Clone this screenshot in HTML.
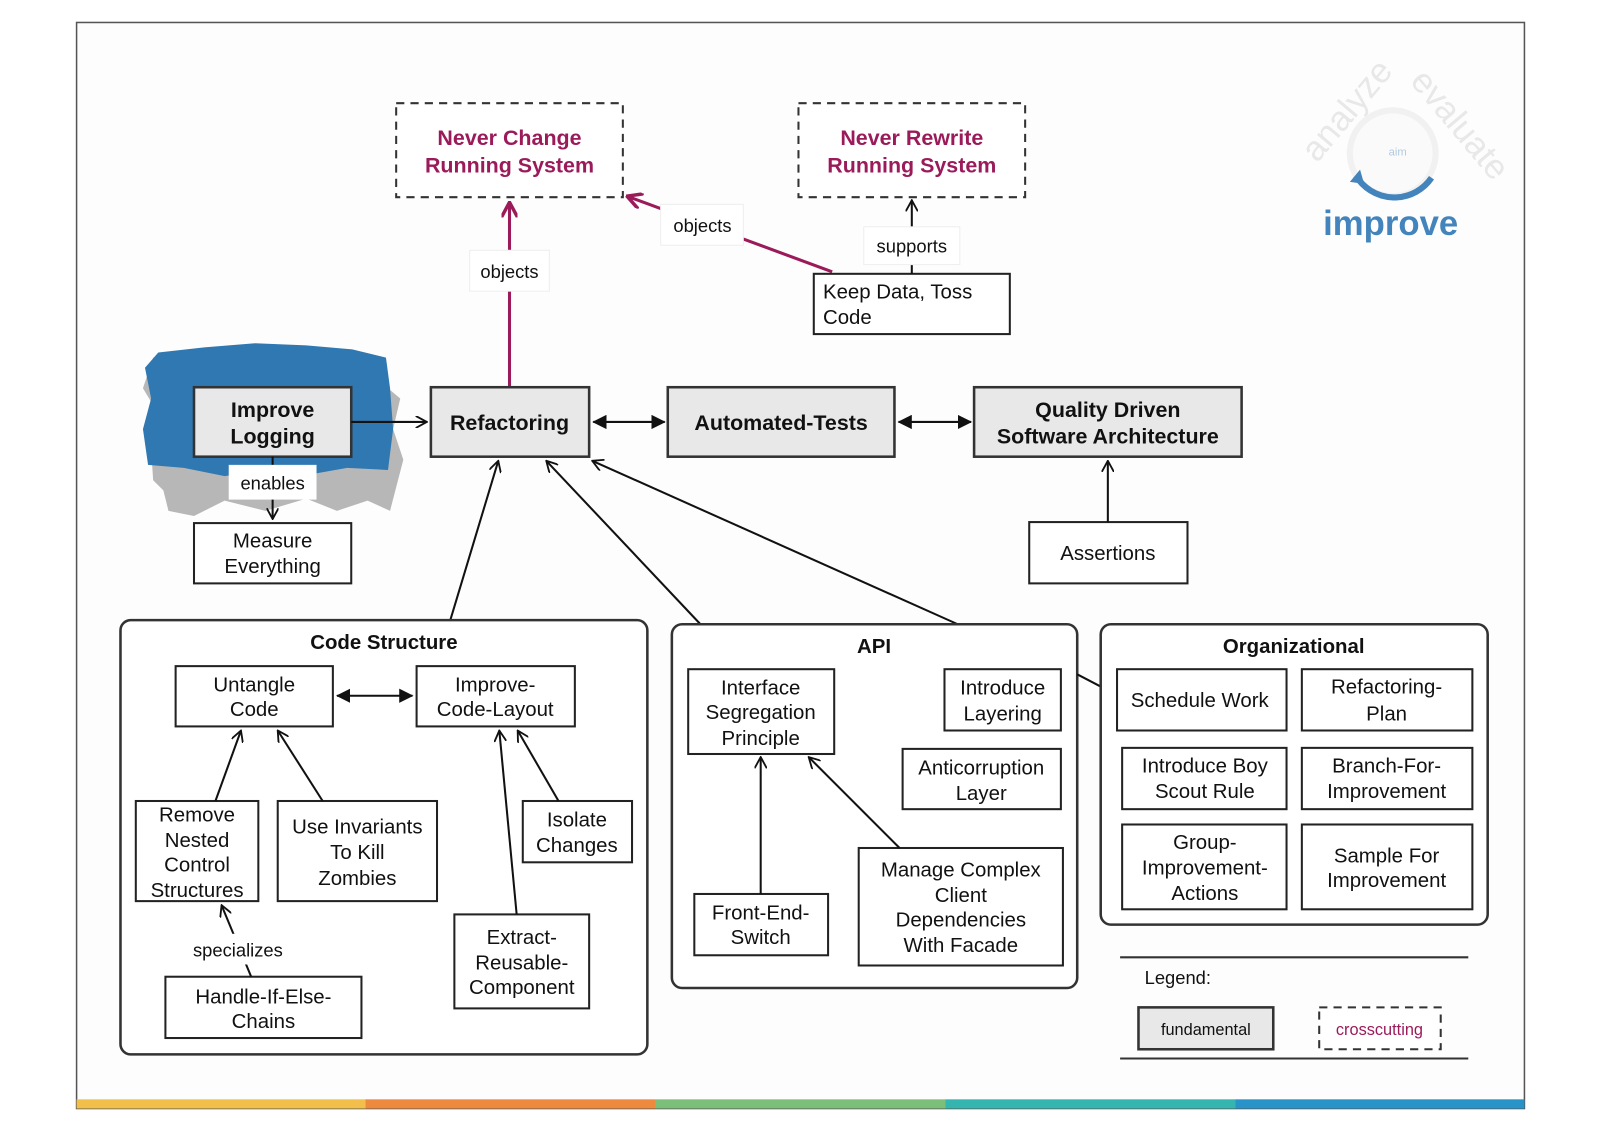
<!DOCTYPE html>
<html><head><meta charset="utf-8"><style>
html,body{margin:0;padding:0;background:#fff;width:1600px;height:1131px;overflow:hidden}
svg{display:block}
text{font-family:"Liberation Sans",sans-serif;fill:#111}
.n{font-size:20px;text-anchor:middle}
.b{font-size:21px;font-weight:bold;text-anchor:middle}
.m{font-size:21px;font-weight:bold;text-anchor:middle;fill:#9b1b5a}
.box{fill:#fff;stroke:#222;stroke-width:2}
.fund{fill:#e8e8e8;stroke:#333;stroke-width:2.5}
.dash{fill:#fff;stroke:#333;stroke-width:2;stroke-dasharray:8 6}
.cont{fill:#fff;stroke:#333;stroke-width:2.5}
.l{stroke:#111;stroke-width:2;fill:none}
.lm{stroke:#9b1b5a;stroke-width:3;fill:none}
.lbl{fill:#fff;stroke:#eee;stroke-width:1}
</style></head><body>
<svg width="1600" height="1131" viewBox="0 0 1567 1107" preserveAspectRatio="none" xmlns="http://www.w3.org/2000/svg">
<defs>
<marker id="o" viewBox="0 0 12 12" refX="11" refY="6" markerWidth="12" markerHeight="12" markerUnits="userSpaceOnUse" orient="auto-start-reverse"><path d="M0,0 L11,6 L0,12" fill="none" stroke="#111" stroke-width="1.8"/></marker>
<marker id="f" viewBox="0 0 14 14" refX="13" refY="7" markerWidth="14" markerHeight="14" markerUnits="userSpaceOnUse" orient="auto-start-reverse"><path d="M0,0 L14,7 L0,14 Z" fill="#111"/></marker>
<marker id="mo" viewBox="0 0 14 14" refX="13" refY="7" markerWidth="16" markerHeight="16" markerUnits="userSpaceOnUse" orient="auto"><path d="M0,0 L13,7 L0,14" fill="none" stroke="#9b1b5a" stroke-width="3"/></marker>
</defs>
<rect x="0" y="0" width="1567" height="1107" fill="#fff"/>
<rect x="75" y="22" width="1418" height="1063" fill="#fdfdfd" stroke="#555" stroke-width="1.5"/>
<rect x="75" y="1076" width="284" height="9" fill="#f2c04a"/>
<rect x="358" y="1076" width="284" height="9" fill="#ee8a3e"/>
<rect x="642" y="1076" width="284" height="9" fill="#7cbf7a"/>
<rect x="926" y="1076" width="284" height="9" fill="#35b5b0"/>
<rect x="1210" y="1076" width="283" height="9" fill="#2793c9"/>

<g opacity="0.9">
<text x="1290" y="160" transform="rotate(-50 1290 160)" style="font-size:34px;fill:#e6e6e6">analyze</text>
<text x="1380" y="80" transform="rotate(50 1380 80)" style="font-size:34px;fill:#e6e6e6">evaluate</text>
<circle cx="1364" cy="150" r="42" fill="#fafafa" stroke="#f0f0f0" stroke-width="6"/>
<text x="1360" y="152" style="font-size:11px;fill:#aac4dd">aim</text>
<path d="M1328,172 A44,44 0 0 0 1402,174" fill="none" stroke="#2e78b4" stroke-width="6"/>
<path d="M1322,178 L1332,166 L1336,180 Z" fill="#2e78b4"/>
<text x="1362" y="230" style="font-size:34px;font-weight:bold;fill:#2e78b4;text-anchor:middle">improve</text>
</g>

<rect class="dash" x="388" y="101" width="222" height="92"/>
<text class="m" x="499" y="142">Never Change</text><text class="m" x="499" y="169">Running System</text>
<rect class="dash" x="782" y="101" width="222" height="92"/>
<text class="m" x="893" y="142">Never Rewrite</text><text class="m" x="893" y="169">Running System</text>

<line class="lm" x1="499" y1="378" x2="499" y2="198" marker-end="url(#mo)"/>
<rect class="lbl" x="460" y="245" width="78" height="40"/><text class="n" x="499" y="272" style="font-size:18px">objects</text>
<line class="lm" x1="815" y1="266" x2="614" y2="192" marker-end="url(#mo)"/>
<rect class="lbl" x="647" y="200" width="81" height="40"/><text class="n" x="688" y="227" style="font-size:18px">objects</text>

<rect class="box" x="797" y="268" width="192" height="59"/>
<text x="806" y="292" style="font-size:20px">Keep Data, Toss</text><text x="806" y="317" style="font-size:20px">Code</text>
<line class="l" x1="893" y1="268" x2="893" y2="196" marker-end="url(#o)"/>
<rect class="lbl" x="846" y="222" width="94" height="37"/><text class="n" x="893" y="247" style="font-size:18px">supports</text>

<path d="M160,480 L150,470 L148,440 L152,400 L140,380 L150,350 L180,345 L220,348 L260,340 L300,342 L340,345 L378,352 L380,380 L392,390 L385,420 L395,450 L382,500 L360,490 L330,500 L300,488 L260,500 L220,490 L190,505 L165,500 Z" fill="#999" opacity="0.7"/>
<path d="M145,455 L140,420 L148,390 L142,360 L155,345 L200,340 L250,336 L300,338 L345,342 L378,350 L382,380 L385,420 L380,460 L340,458 L300,465 L260,460 L220,466 L180,458 Z" fill="#2f78b2"/>

<rect class="fund" x="190" y="379" width="154" height="68"/>
<text class="b" x="267" y="408">Improve</text><text class="b" x="267" y="434">Logging</text>
<rect class="fund" x="422" y="379" width="155" height="68"/><text class="b" x="499" y="421">Refactoring</text>
<rect class="fund" x="654" y="379" width="222" height="68"/><text class="b" x="765" y="421">Automated-Tests</text>
<rect class="fund" x="954" y="379" width="262" height="68"/>
<text class="b" x="1085" y="408">Quality Driven</text><text class="b" x="1085" y="434">Software Architecture</text>

<line class="l" x1="344" y1="413" x2="418" y2="413" marker-end="url(#o)"/>
<line class="l" x1="581" y1="413" x2="651" y2="413" marker-start="url(#f)" marker-end="url(#f)"/>
<line class="l" x1="880" y1="413" x2="951" y2="413" marker-start="url(#f)" marker-end="url(#f)"/>

<line class="l" x1="267" y1="447" x2="267" y2="508" marker-end="url(#o)"/>
<rect x="224" y="455" width="86" height="34" fill="#fff"/><text class="n" x="267" y="479" style="font-size:18px">enables</text>
<rect class="box" x="190" y="512" width="154" height="59"/>
<text class="n" x="267" y="536">Measure</text><text class="n" x="267" y="561">Everything</text>

<rect class="box" x="1008" y="511" width="155" height="60"/><text class="n" x="1085" y="548">Assertions</text>
<line class="l" x1="1085" y1="511" x2="1085" y2="451" marker-end="url(#o)"/>

<line class="l" x1="441" y1="607" x2="488" y2="451" marker-end="url(#o)"/>
<line class="l" x1="686" y1="611" x2="535" y2="451" marker-end="url(#o)"/>
<line class="l" x1="938" y1="611" x2="580" y2="451" marker-end="url(#o)"/>

<rect class="cont" x="118" y="607" width="516" height="425" rx="10"/>
<text class="b" x="376" y="635" style="font-size:20px">Code Structure</text>
<rect class="box" x="172" y="652" width="154" height="59"/><text class="n" x="249" y="677">Untangle</text><text class="n" x="249" y="701">Code</text>
<rect class="box" x="408" y="652" width="155" height="59"/><text class="n" x="485" y="677">Improve-</text><text class="n" x="485" y="701">Code-Layout</text>
<line class="l" x1="330" y1="681" x2="404" y2="681" marker-start="url(#f)" marker-end="url(#f)"/>
<rect class="box" x="133" y="784" width="120" height="98"/>
<text class="n" x="193" y="804">Remove</text><text class="n" x="193" y="829">Nested</text><text class="n" x="193" y="853">Control</text><text class="n" x="193" y="878">Structures</text>
<rect class="box" x="272" y="784" width="156" height="98"/>
<text class="n" x="350" y="816">Use Invariants</text><text class="n" x="350" y="841">To Kill</text><text class="n" x="350" y="866">Zombies</text>
<rect class="box" x="512" y="784" width="107" height="60"/><text class="n" x="565" y="809">Isolate</text><text class="n" x="565" y="834">Changes</text>
<rect class="box" x="445" y="895" width="132" height="92"/>
<text class="n" x="511" y="924">Extract-</text><text class="n" x="511" y="949">Reusable-</text><text class="n" x="511" y="973">Component</text>
<rect class="box" x="162" y="956" width="192" height="60"/><text class="n" x="258" y="982">Handle-If-Else-</text><text class="n" x="258" y="1006">Chains</text>
<line class="l" x1="211" y1="784" x2="236" y2="715" marker-end="url(#o)"/>
<line class="l" x1="316" y1="784" x2="272" y2="715" marker-end="url(#o)"/>
<line class="l" x1="506" y1="895" x2="489" y2="715" marker-end="url(#o)"/>
<line class="l" x1="547" y1="784" x2="507" y2="715" marker-end="url(#o)"/>
<line class="l" x1="246" y1="956" x2="217" y2="886" marker-end="url(#o)"/>
<rect x="180" y="914" width="106" height="30" fill="#fff"/><text class="n" x="233" y="936" style="font-size:18px">specializes</text>

<rect class="cont" x="658" y="611" width="397" height="356" rx="10"/>
<text class="b" x="856" y="639" style="font-size:20px">API</text>
<rect class="box" x="674" y="655" width="143" height="83"/>
<text class="n" x="745" y="680">Interface</text><text class="n" x="745" y="704">Segregation</text><text class="n" x="745" y="729">Principle</text>
<rect class="box" x="925" y="655" width="114" height="60"/><text class="n" x="982" y="680">Introduce</text><text class="n" x="982" y="705">Layering</text>
<rect class="box" x="884" y="733" width="155" height="59"/><text class="n" x="961" y="758">Anticorruption</text><text class="n" x="961" y="783">Layer</text>
<rect class="box" x="680" y="875" width="131" height="60"/><text class="n" x="745" y="900">Front-End-</text><text class="n" x="745" y="924">Switch</text>
<rect class="box" x="841" y="830" width="200" height="115"/>
<text class="n" x="941" y="858">Manage Complex</text><text class="n" x="941" y="883">Client</text><text class="n" x="941" y="907">Dependencies</text><text class="n" x="941" y="932">With Facade</text>
<line class="l" x1="745" y1="875" x2="745" y2="741" marker-end="url(#o)"/>
<line class="l" x1="881" y1="830" x2="792" y2="741" marker-end="url(#o)"/>

<line class="l" x1="1055" y1="660" x2="1078" y2="672"/>
<rect class="cont" x="1078" y="611" width="379" height="294" rx="10"/>
<text class="b" x="1267" y="639" style="font-size:20px">Organizational</text>
<rect class="box" x="1094" y="655" width="166" height="60"/><text class="n" x="1175" y="692">Schedule Work</text>
<rect class="box" x="1275" y="655" width="167" height="60"/><text class="n" x="1358" y="679">Refactoring-</text><text class="n" x="1358" y="705">Plan</text>
<rect class="box" x="1099" y="732" width="161" height="60"/><text class="n" x="1180" y="756">Introduce Boy</text><text class="n" x="1180" y="781">Scout Rule</text>
<rect class="box" x="1275" y="732" width="167" height="60"/><text class="n" x="1358" y="756">Branch-For-</text><text class="n" x="1358" y="781">Improvement</text>
<rect class="box" x="1099" y="807" width="161" height="83"/><text class="n" x="1180" y="831">Group-</text><text class="n" x="1180" y="856">Improvement-</text><text class="n" x="1180" y="881">Actions</text>
<rect class="box" x="1275" y="807" width="167" height="83"/><text class="n" x="1358" y="844">Sample For</text><text class="n" x="1358" y="868">Improvement</text>

<line x1="1097" y1="937" x2="1438" y2="937" stroke="#333" stroke-width="2"/>
<line x1="1097" y1="1036" x2="1438" y2="1036" stroke="#333" stroke-width="2"/>
<text x="1121" y="963" style="font-size:18px">Legend:</text>
<rect class="fund" x="1115" y="986" width="132" height="41"/><text x="1181" y="1013" style="font-size:16px;text-anchor:middle">fundamental</text>
<rect class="dash" x="1292" y="986" width="119" height="41"/><text x="1351" y="1013" style="font-size:16px;text-anchor:middle;fill:#9b1b5a">crosscutting</text>
</svg>
</body></html>
